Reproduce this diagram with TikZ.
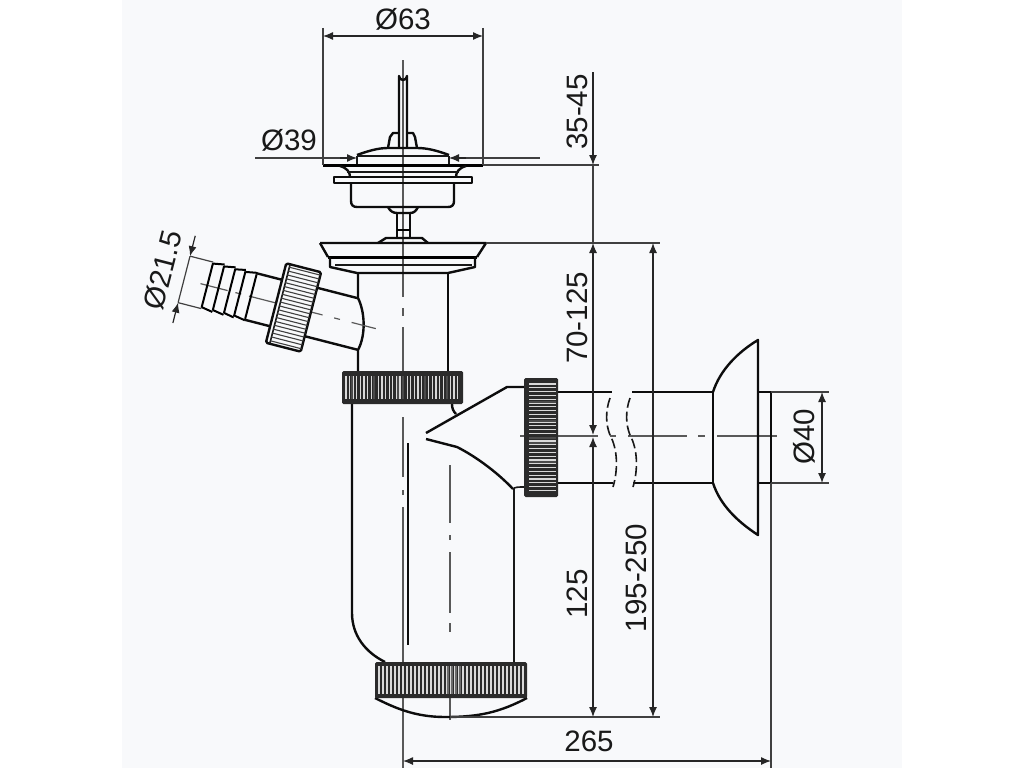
\documentclass[tikz,border=0pt]{standalone}
\usepackage{fontspec}
\setmainfont{Liberation Sans}
\usetikzlibrary{arrows.meta}
\definecolor{sheet}{HTML}{F8F9FB}
\definecolor{knurl}{HTML}{2B2B2B}
\tikzset{
  wall/.style={line width=2.4pt,black!95,line join=round},
  thinwall/.style={line width=1.6pt,black!90},
  axisline/.style={line width=1.2pt,black!65},
  extline/.style={line width=1.2pt,black!75},
  dimtip/.style={line width=1.2pt,black!85,-{Latex[length=10pt,width=8pt]}},
  dimline/.style={line width=1.2pt,black!85,{Latex[length=10pt,width=8pt]}-{Latex[length=10pt,width=8pt]}},
  dimtext/.style={font=\fontsize{29.5}{31}\selectfont,inner sep=0pt,text=black!90}
}
\begin{document}
\begin{tikzpicture}[x=1pt,y=-1pt]
\useasboundingbox (0,0) rectangle (1024,768);
\fill[white] (0,0) rectangle (1024,768);
\fill[sheet] (122,0) rectangle (902,768);

% axis lines
\foreach \a/\b in {60/297,308/316,327/404,417/477,490/495,507/768}
  \draw[axisline] (403,\a) -- (403,\b);
\foreach \a/\b in {465/523,535/540,552/613,623/632,698/720}
  \draw[axisline] (450,\a) -- (450,\b);
\foreach \a/\b in {520/598,610/616,628/687,698/705,717/777}
  \draw[axisline] (\a,436) -- (\b,436);

% plug
\draw[wall] (399,148) -- (399,76) arc[start angle=180,end angle=0,radius=4] -- (407,148);
\draw[wall] (388,148) -- (390,137) -- (393,133) -- (398,133);
\draw[wall] (417,148) -- (415,137) -- (413,133) -- (408,133);
\draw[wall] (357,155) .. controls (368,151) and (378,148) .. (388,148) -- (417,148)
  .. controls (428,148) and (438,151) .. (449,155);
\draw[thinwall] (357,156) -- (449,156);
\draw[thinwall] (357,156) -- (357,165);
\draw[thinwall] (449,156) -- (449,165);
\draw[line width=3pt] (323,165) -- (483,165);
\draw[wall] (340,166) .. controls (347,168) and (350,172) .. (350,177);
\draw[wall] (466,166) .. controls (459,168) and (456,172) .. (456,177);
\draw[thinwall] (347,172) -- (459,172);
\draw[wall] (334,177) rectangle (472,183);
\draw[wall] (351,183) -- (351,201) .. controls (351,205) and (353,207) .. (357,207) -- (448,207)
  .. controls (452,207) and (454,205) .. (454,201) -- (454,183);
\draw[wall] (388,207) .. controls (390,211) and (393,213) .. (397,213) -- (410,213)
  .. controls (414,213) and (416,211) .. (418,207);
\draw[wall] (397,213) -- (397,237);
\draw[wall] (410,213) -- (410,237);
\draw[line width=1.8pt] (397,230) -- (410,230);
\draw[wall] (378,243) -- (386,238) -- (422,238) -- (428,243);

% flange and upper body
\draw[wall] (320,243) -- (486,243) -- (477,257);
\draw[wall] (320,243) -- (328,257);
\draw[line width=3pt] (328,257) -- (477,257);
\draw[thinwall] (335,265) -- (472,265);
\draw[wall] (330,257) -- (330,267) -- (357,273) -- (448,273) -- (475,267) -- (475,257);
\draw[wall] (358,273) -- (358,298) .. controls (365,312) and (366,335) .. (358,350) -- (358,372);
\draw[wall] (448,273) -- (448,372);

% side hose connection
\begin{scope}[shift={(293.5,307.5)},rotate=-14.4]
\foreach \a/\b in {-96/-68,-60/-54,-46/-6,6/30,42/48,60/85}
  \draw[axisline] (\a,0) -- (\b,0);
\draw[wall] (18,-25) -- (60,-25);
\draw[wall] (18,25) -- (73,25);
\draw[wall] (-18,-24) -- (-44,-24);
\draw[wall] (-18,24) -- (-44,24);
\foreach \a/\b in {-89/-77.5,-77.5/-66,-66/-55.5,-55.5/-44} {
  \draw[line width=2pt] (\a,-22.5) -- (\b,-24.5);
  \draw[line width=2pt] (\a,22.5) -- (\b,24.5);
}
\foreach \u in {-89,-77.5,-66,-55.5,-44}
  \draw[line width=2pt] (\u,-23) -- (\u,23);
\fill[sheet] (-18,-41) rectangle (18,41);
\draw[wall,rounded corners=1.5pt] (-18,-41) rectangle (18,41);
\draw[thinwall] (-14,-41) -- (-14,41);
\foreach \v in {-38,-34,...,38}
  \draw[line width=1.1pt,black!75] (-14,\v) -- (18,\v);
\coordinate (hoseU) at (-113,-24);
\coordinate (hoseL) at (-113,24);
\coordinate (hoseUo) at (-113,-45);
\coordinate (hoseLo) at (-113,45);
\draw[extline] (-113,-24) -- (-89,-24);
\draw[extline] (-113,24) -- (-89,24);
\draw[dimtip] (hoseUo) -- (hoseU);
\draw[dimtip] (hoseLo) -- (hoseL);
\draw[extline] (hoseU) -- (hoseL);
\end{scope}

% lower body and trap
\draw[wall] (352,404) -- (352,613) .. controls (352,635) and (365,652) .. (385,662);
\draw[wall] (408,443) -- (408,645);
\draw[thinwall] (514,489) -- (514,662);
\draw[wall] (452,404) .. controls (452,408) and (453,411) .. (456,414);
\draw[wall] (426,433) -- (507,387) -- (524,387);
\draw[wall] (426,439) -- (457,447) .. controls (475,456) and (497,472) .. (513,489);
\draw[thinwall] (513,489) .. controls (515,487) and (518,487) .. (524,487);
\draw[wall] (375,698) .. controls (395,708) and (415,717) .. (445,717)
  .. controls (480,717) and (500,712) .. (527,698);

% outlet pipe with break
\draw[wall] (558,392) -- (612,392);
\draw[wall] (632,392) -- (713,392);
\draw[wall] (558,483) -- (613,483);
\draw[wall] (633,483) -- (713,483);
\draw[thinwall,dash pattern=on 10pt off 4pt] (610,398) .. controls (605,412) and (606,425) .. (610,435)
  .. controls (618,450) and (618,470) .. (613,487);
\draw[thinwall,dash pattern=on 10pt off 4pt] (630,398) .. controls (625,412) and (626,425) .. (630,435)
  .. controls (638,450) and (638,470) .. (633,487);
\draw[wall] (713,392) -- (713,483);
\draw[wall] (713,392) .. controls (720,370) and (738,352) .. (758,340) -- (758,535)
  .. controls (738,522) and (720,505) .. (713,483);
\draw[wall] (758,392) -- (771,392) -- (771,483) -- (758,483);

% knurled nuts
\fill[knurl,rounded corners=1.5pt] (342,371) rectangle (463,404);
\foreach \x in {346,349.6,...,460}
  \draw[line width=1.3pt,white!85!black] (\x,376) -- (\x,399);
\foreach \x in {352,374,398,403,425,447}
  \draw[line width=2.4pt,knurl!85] (\x,376) -- (\x,399);
\fill[knurl,rounded corners=1.5pt] (524,378) rectangle (558,497);
\foreach \y in {384,387.8,...,492}
  \draw[line width=1.1pt,white!85!black] (529,\y) -- (556,\y);
\foreach \y in {402,421,438,443,462}
  \draw[line width=2.4pt,knurl!85] (529,\y) -- (556,\y);
\fill[knurl,rounded corners=1.5pt] (375,662) rectangle (527,698);
\foreach \x in {379,383,...,525}
  \draw[line width=1.4pt,white!85!black] (\x,666) -- (\x,694);
\foreach \x in {448,452,456,460}
  \draw[line width=2.5pt,knurl!70] (\x,666) -- (\x,694);

% dimensions
\coordinate (topL) at (323,36);
\coordinate (topR) at (483,36);
\coordinate (plugL) at (357,158);
\coordinate (plugR) at (449,158);
\coordinate (plugLo) at (340,158);
\coordinate (plugRo) at (466,158);
\coordinate (stemTop) at (593,72);
\coordinate (rimA) at (593,165);
\coordinate (rimB) at (593,243);
\coordinate (midA) at (593,435);
\coordinate (midB) at (593,437);
\coordinate (baseA) at (593,717);
\coordinate (longA) at (653,243);
\coordinate (longB) at (653,717);
\coordinate (runL) at (403,761);
\coordinate (runR) at (771,761);
\coordinate (wallA) at (822,392);
\coordinate (wallB) at (822,483);

\draw[extline] (323,28) -- (323,165);
\draw[extline] (483,28) -- (483,165);
\draw[dimline] (topL) -- (topR);
\node[dimtext] (d63) at (403,19) {Ø63};

\draw[extline] (255,158) -- (plugLo);
\draw[extline] (plugRo) -- (540,158);
\draw[dimtip] (plugLo) -- (plugL);
\draw[dimtip] (plugRo) -- (plugR);
\node[dimtext] (d39) at (289,140) {Ø39};

\draw[extline] (483,165) -- (599,165);
\draw[extline] (486,243) -- (660,243);
\draw[extline] (450,717) -- (660,717);
\draw[extline] (771,483) -- (771,768);
\draw[extline] (771,392) -- (829,392);
\draw[extline] (771,483) -- (829,483);

\draw[dimtip] (stemTop) -- (rimA);
\draw[extline] (rimA) -- (rimB);
\draw[dimline] (rimB) -- (midA);
\draw[dimline] (midB) -- (baseA);
\draw[dimline] (longA) -- (longB);
\draw[dimline] (runL) -- (runR);
\draw[dimline] (wallA) -- (wallB);

\node[dimtext,rotate=90] (d3545) at (577,112) {35-45};
\node[dimtext,rotate=90] (d70125) at (577,318) {70-125};
\node[dimtext,rotate=90] (d125) at (577,594) {125};
\node[dimtext,rotate=90] (d195250) at (636,578) {195-250};
\node[dimtext] (d265) at (589,741) {265};
\node[dimtext,rotate=90] (d40) at (804,437) {Ø40};
\node[dimtext,rotate=75.6] (d215) at (163,270) {Ø21.5};
\end{tikzpicture}
\end{document}
